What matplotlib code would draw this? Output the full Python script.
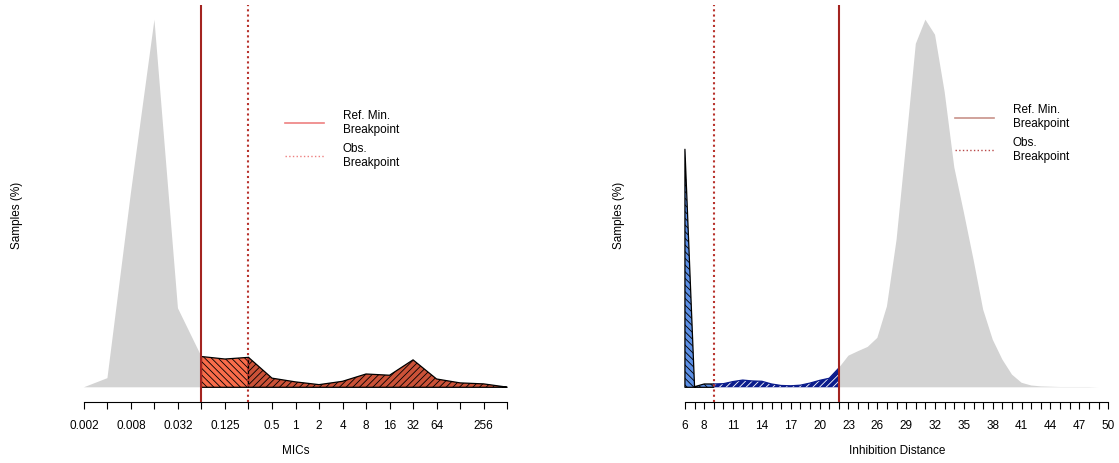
import numpy as np
import matplotlib
matplotlib.use("Agg")
import matplotlib.pyplot as plt
from matplotlib.lines import Line2D

plt.rcParams['font.family'] = ['Liberation Sans', 'DejaVu Sans']
plt.rcParams['hatch.linewidth'] = 0.6

# MIC distribution (log2 dilution steps, % of samples)
mic_values = [0.002, 0.004, 0.008, 0.016, 0.032, 0.064, 0.125, 0.25, 0.5, 1,
              2, 4, 8, 16, 32, 64, 128, 256, 512]
mic_pct = [0.0, 1.1, 23.4, 44.2, 9.5, 3.7, 3.4, 3.6, 1.1, 0.65,
           0.32, 0.72, 1.6, 1.45, 3.3, 1.0, 0.53, 0.41, 0.02]
mic_labels = ["0.002", "", "0.008", "", "0.032", "", "0.125", "", "0.5", "1",
              "2", "4", "8", "16", "32", "64", "", "256", ""]
mic_ref_bp = 0.064
mic_obs_bp = 0.25

# inhibition zone distribution (mm, % of samples)
zone_mm = list(range(6, 51))
zone_pct = [7.9, 0.02, 0.11, 0.11, 0.12, 0.19, 0.24, 0.21, 0.20, 0.11,
            0.06, 0.05, 0.07, 0.14, 0.23, 0.30, 0.64, 1.05, 1.2, 1.34,
            1.64, 2.69, 4.9, 8.1, 11.4, 12.2, 11.7, 9.8, 7.3, 5.8,
            4.24, 2.58, 1.58, 0.92, 0.42, 0.15, 0.06, 0.03, 0.02, 0.01,
            0.01, 0.01, 0.01, 0.0, 0.0]
zone_labels = [6, 8, 11, 14, 17, 20, 23, 26, 29, 32, 35, 38, 41, 44, 47, 50]
zone_ref_bp = 22
zone_obs_bp = 9

GRAY = "#D3D3D3"
REF_COL = "#A32420"
OBS_COL = "#B8322C"
HATCH_DOWN = "\\" * 5
HATCH_UP = "/" * 5

fig = plt.figure(figsize=(11.19, 4.63), dpi=100)
W, H = 1119, 463
ax1 = fig.add_axes([67 / W, 61 / H, 457 / W, 397 / H])
ax2 = fig.add_axes([668 / W, 61 / H, 451 / W, 397 / H])


def style_axis(ax):
    for s in ["top", "right", "left"]:
        ax.spines[s].set_visible(False)
    ax.spines["bottom"].set_linewidth(0.8)
    ax.set_yticks([])
    ax.tick_params(axis="x", direction="out", length=5, width=0.8, pad=8,
                   labelsize=8.5)


def add_legend(ax, ref_col, obs_col, anchor):
    handles = [Line2D([], [], color=ref_col, lw=1.2),
               Line2D([], [], color=obs_col, lw=1.0, ls=":")]
    ax.legend(handles, ["Ref. Min.\nBreakpoint", "Obs.\nBreakpoint"],
              loc="upper left", bbox_to_anchor=anchor, frameon=False,
              fontsize=8.5, handlelength=3.3, handletextpad=1.6,
              borderpad=0, borderaxespad=0, labelspacing=0.6)


# ---- left: MICs ----
x1 = np.arange(len(mic_values))
y1 = np.array(mic_pct)
i_ref = mic_values.index(mic_ref_bp)
i_obs = mic_values.index(mic_obs_bp)

ax1.fill_between(x1[:i_ref + 1], y1[:i_ref + 1], 0, facecolor=GRAY, lw=0)
ax1.fill_between(x1[i_ref:i_obs + 1], y1[i_ref:i_obs + 1], 0,
                 facecolor="#F86C4A", edgecolor="black", hatch=HATCH_DOWN, lw=0.9)
ax1.fill_between(x1[i_obs:], y1[i_obs:], 0,
                 facecolor="#CB5238", edgecolor="black", hatch=HATCH_UP, lw=0.9)
ax1.axvline(i_ref, color=REF_COL, lw=1.5, zorder=5)
ax1.axvline(i_obs, color=OBS_COL, lw=1.5, ls=(0, (1, 1.5)), zorder=5)

style_axis(ax1)
ax1.set_xlim(-0.72, len(mic_values) - 1 + 0.72)
m1 = y1.max()
ax1.set_ylim(-0.04 * m1, 1.04 * m1)
ax1.spines["bottom"].set_bounds(0, len(mic_values) - 1)
ax1.set_xticks(x1)
ax1.set_xticklabels(mic_labels)
ax1.set_xlabel("MICs", fontsize=8.5, va="center")
ax1.xaxis.set_label_coords(0.501, -0.123)
ax1.set_ylabel("Samples (%)", fontsize=8.5)
ax1.yaxis.set_label_coords(-0.097, 0.47)
add_legend(ax1, "#EE8080", "#EE8080", (0.477, 0.735))

# ---- right: inhibition distance ----
x2 = np.array(zone_mm)
y2 = np.array(zone_pct)
j_ref = zone_mm.index(zone_ref_bp)
j_obs = zone_mm.index(zone_obs_bp)

ax2.fill_between(x2[j_ref:], y2[j_ref:], 0, facecolor=GRAY, lw=0)
ax2.fill_between(x2[:j_obs + 1], y2[:j_obs + 1], 0,
                 facecolor="#5B8FE6", edgecolor="black", hatch=HATCH_DOWN, lw=0.9)
ax2.fill_between(x2[j_obs:j_ref + 1], y2[j_obs:j_ref + 1], 0,
                 facecolor="#0B1C8C", edgecolor="white", hatch=HATCH_UP, lw=0)
ax2.plot(x2[j_obs:j_ref + 1], y2[j_obs:j_ref + 1], color="#0B1C8C", lw=0.9)
ax2.axvline(zone_ref_bp, color=REF_COL, lw=1.5, zorder=5)
ax2.axvline(zone_obs_bp, color=OBS_COL, lw=1.5, ls=(0, (1, 1.5)), zorder=5)

style_axis(ax2)
ax2.set_xlim(zone_mm[0] - 1.76, zone_mm[0] - 1.76 + 451 / 9.62)
m2 = y2.max()
ax2.set_ylim(-0.04 * m2, 1.04 * m2)
ax2.spines["bottom"].set_bounds(zone_mm[0], zone_mm[-1])
ax2.set_xticks(x2, minor=True)
ax2.set_xticks(zone_labels)
ax2.tick_params(axis="x", which="minor", direction="out", length=5, width=0.8)
ax2.set_xlabel("Inhibition Distance", fontsize=8.5, va="center")
ax2.xaxis.set_label_coords(0.508, -0.123)
ax2.set_ylabel("Samples (%)", fontsize=8.5)
ax2.yaxis.set_label_coords(-0.095, 0.47)
add_legend(ax2, "#C8928A", "#B84848", (0.636, 0.75))

fig.savefig("out.png", dpi=100)
